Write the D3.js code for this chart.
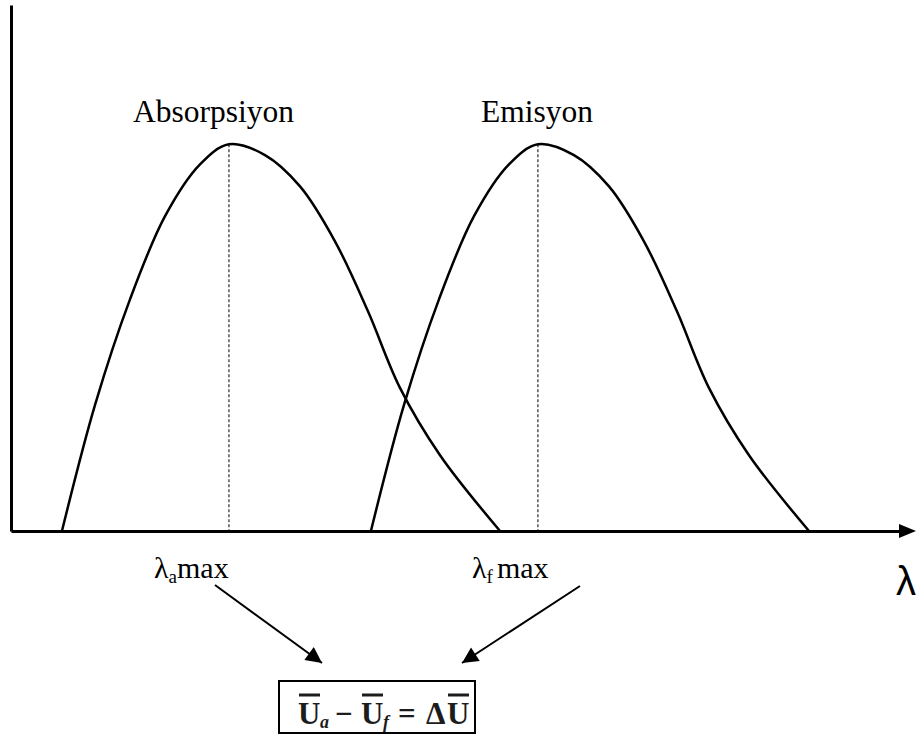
<!DOCTYPE html>
<html>
<head>
<meta charset="utf-8">
<script src="https://cdn.jsdelivr.net/npm/d3@7"></script>
<style>
  html, body { margin: 0; padding: 0; background: #fff; }
  svg { display: block; }
</style>
</head>
<body>
<svg id="chart" width="917" height="747"></svg>
<script>
// Wavelength (arbitrary units) and relative intensity of the two bands
const absLambda = [5.70, 9.40, 13.31, 17.23, 21.14, 24.38, 28.41, 32.33, 36.24, 39.93, 43.51, 47.99, 54.70];
const absIntensity = [0, 0.326, 0.599, 0.814, 0.948, 1, 0.972, 0.891, 0.749, 0.568, 0.370, 0.196, 0];
const emiLambda = [40.26, 43.96, 47.87, 51.79, 55.70, 58.94, 62.97, 66.89, 70.80, 74.49, 78.07, 82.55, 89.26];
const emiIntensity = [0, 0.326, 0.599, 0.814, 0.948, 1, 0.972, 0.891, 0.749, 0.568, 0.370, 0.196, 0];
const bandNames = ["Absorpsiyon", "Emisyon"];
const peakLambda = [24.38, 58.94];

const svg = d3.select("#chart");
const x = d3.scaleLinear().domain([0, 100]).range([11, 905]);
const y = d3.scaleLinear().domain([0, 1.36]).range([531, 5]);

// arrow marker for the pointer lines
const defs = svg.append("defs");
defs.append("marker")
  .attr("id", "head")
  .attr("viewBox", "0 0 10 10")
  .attr("refX", 10).attr("refY", 5)
  .attr("markerUnits", "userSpaceOnUse")
  .attr("markerWidth", 20).attr("markerHeight", 16)
  .attr("orient", "auto")
  .append("path").attr("d", "M0,0L10,5L0,10Z").attr("fill", "#000");

// axes without ticks
svg.append("g").attr("transform", `translate(0,${y(0)})`)
  .call(d3.axisBottom(x).tickValues([]).tickSizeOuter(0));
svg.append("g").attr("transform", `translate(${x(0)},0)`)
  .call(d3.axisLeft(y).tickValues([]).tickSizeOuter(0));
svg.selectAll(".domain").attr("stroke", "#000").attr("stroke-width", 3);

// arrowhead at the end of the wavelength axis
svg.append("path")
  .attr("d", `M${x(100) - 6},${y(0) - 7}L${x(100) + 11},${y(0)}L${x(100) - 6},${y(0) + 7}Z`)
  .attr("fill", "#000");

// dashed guides at the band maxima
svg.selectAll(".guide").data(peakLambda).join("line")
  .attr("class", "guide")
  .attr("x1", d => x(d)).attr("x2", d => x(d))
  .attr("y1", y(1)).attr("y2", y(0))
  .attr("stroke", "#000").attr("stroke-width", 1)
  .attr("stroke-dasharray", "3,2");

const line = d3.line().x(d => x(d[0])).y(d => y(d[1])).curve(d3.curveCatmullRom.alpha(0.5));
const bands = [
  d3.zip(absLambda, absIntensity),
  d3.zip(emiLambda, emiIntensity)
];
svg.selectAll(".band").data(bands).join("path")
  .attr("class", "band")
  .attr("d", line)
  .attr("fill", "none").attr("stroke", "#000").attr("stroke-width", 2.5);

// band titles
const serif = "'Liberation Serif', 'Times New Roman', serif";
svg.selectAll(".title").data(bandNames).join("text")
  .attr("class", "title")
  .attr("x", (d, i) => [133, 481][i])
  .attr("y", 122)
  .attr("font-family", serif).attr("font-size", 31.5)
  .text(d => d);

// lambda max labels
function lamLabel(px, sub, rest, gap) {
  const t = svg.append("text").attr("x", px).attr("y", 578)
    .attr("font-family", serif).attr("font-size", 30);
  t.append("tspan").text("λ");
  t.append("tspan").attr("font-size", 19).attr("dy", 5).text(sub);
  t.append("tspan").attr("dy", -5).attr("dx", gap).text(rest);
}
lamLabel(154, "a", "max", 0);
lamLabel(472, "f", "max", 4);

// axis symbol
svg.append("text").attr("x", 896).attr("y", 595)
  .attr("font-family", "'Liberation Sans', Arial, sans-serif").attr("font-size", 40)
  .text("λ");

// pointers to the difference formula
svg.append("line").attr("x1", 215).attr("y1", 585).attr("x2", 322).attr("y2", 663)
  .attr("stroke", "#000").attr("stroke-width", 2).attr("marker-end", "url(#head)");
svg.append("line").attr("x1", 580).attr("y1", 586).attr("x2", 462).attr("y2", 663)
  .attr("stroke", "#000").attr("stroke-width", 2).attr("marker-end", "url(#head)");

// formula box: mean wavenumber difference
svg.append("rect").attr("x", 279).attr("y", 681).attr("width", 196).attr("height", 52)
  .attr("fill", "#fff").attr("stroke", "#000").attr("stroke-width", 2);
const ink = "#1c1c1c";
const glyphs = [
  { t: "U", x: 298, bar: true },
  { t: "a", x: 320, sub: true },
  { t: "−", x: 335 },
  { t: "U", x: 361, bar: true },
  { t: "f", x: 383, sub: true },
  { t: "=", x: 398 },
  { t: "Δ", x: 426 },
  { t: "U", x: 447, bar: true }
];
glyphs.forEach(g => {
  svg.append("text")
    .attr("x", g.x).attr("y", g.sub ? 728 : 724)
    .attr("font-family", serif)
    .attr("font-weight", "bold")
    .attr("font-style", g.sub ? "italic" : "normal")
    .attr("font-size", g.sub ? 18 : 31)
    .attr("fill", ink)
    .text(g.t);
  if (g.bar) {
    svg.append("line")
      .attr("x1", g.x + 1).attr("x2", g.x + 22)
      .attr("y1", 695).attr("y2", 695)
      .attr("stroke", ink).attr("stroke-width", 3);
  }
});
</script>
</body>
</html>
